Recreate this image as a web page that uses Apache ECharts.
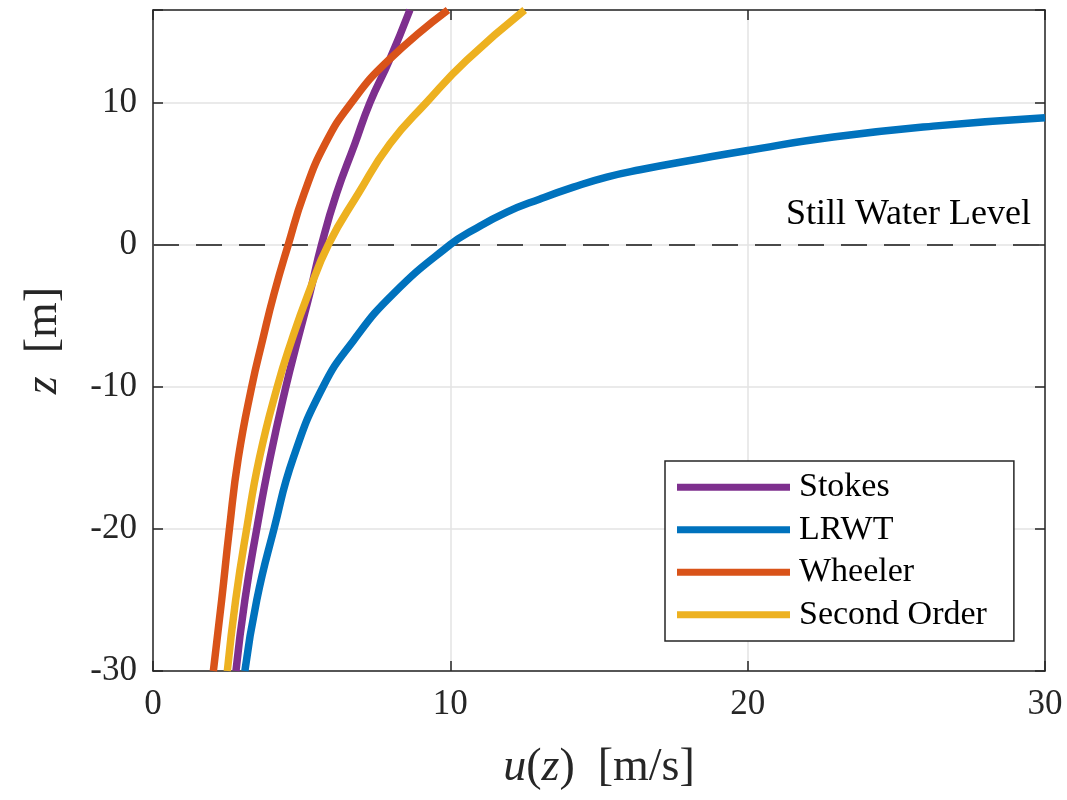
<!DOCTYPE html>
<html>
<head>
<meta charset="utf-8">
<script src="https://cdn.jsdelivr.net/npm/echarts@6/dist/echarts.min.js"></script>
<style>
  html, body { margin: 0; padding: 0; background: #fff; }
  #chart { width: 1067px; height: 800px; }
</style>
</head>
<body>
<div id="chart"></div>
<script>
// velocity profiles u(z)
var stokesZ = [-30, -25, -20, -15, -10, -6.76, -3.47, 0, 3.57, 7.09, 10, 12.96, 16.5];
var stokesU = [2.79, 3.09, 3.49, 3.94, 4.47, 4.86, 5.27, 5.67, 6.17, 6.79, 7.3, 7.95, 8.64];

var lrwtZ = [-30, -25, -20, -15, -10, -6.76, -3.47, 0, 1, 2.28, 3.21, 4.04, 4.75, 5.26, 6.0, 6.62, 7.56, 8.33, 8.92];
var lrwtU = [3.09, 3.49, 4.07, 4.72, 5.72, 6.74, 8.08, 10, 10.75, 11.9, 13.02, 14.14, 15.26, 16.38, 18.3, 20, 22.88, 26.24, 30];

var wheelerZ = [-30, -25, -20, -15, -10, -6.76, -3.47, 0, 3.57, 7.09, 10, 12.96, 16.5];
var wheelerU = [2.03, 2.31, 2.57, 2.87, 3.32, 3.68, 4.07, 4.55, 5.08, 5.79, 6.68, 7.92, 9.92];

var secondZ = [-30, -25, -20, -15, -10, -6.76, -3.47, 0, 3.57, 7.09, 10, 12.96, 16.5];
var secondU = [2.5, 2.78, 3.15, 3.58, 4.18, 4.66, 5.22, 5.9, 6.9, 7.97, 9.2, 10.55, 12.5];

var names = ['Stokes', 'LRWT', 'Wheeler', 'Second Order'];
var colors = ['#7E2F8E', '#0072BD', '#D95319', '#EDB120'];
var stillWaterLevel = 0;

function zip(u, z) {
  var out = [];
  for (var i = 0; i < u.length; i++) out.push([u[i], z[i]]);
  return out;
}

var font = '"Liberation Serif", "DejaVu Serif", serif';
var axisColor = '#262626';
var gridColor = '#e3e3e3';

var chart = echarts.init(document.getElementById('chart'));

var lineSeries = function (name, data, color) {
  return {
    name: name,
    type: 'line',
    data: data,
    showSymbol: false,
    smooth: 0.5,
    color: color,
    lineStyle: { width: 7.5, color: color },
    xAxisIndex: 0,
    yAxisIndex: 0
  };
};

var series = [
  lineSeries(names[0], zip(stokesU, stokesZ), colors[0]),
  lineSeries(names[1], zip(lrwtU, lrwtZ), colors[1]),
  lineSeries(names[2], zip(wheelerU, wheelerZ), colors[2]),
  lineSeries(names[3], zip(secondU, secondZ), colors[3])
];
// dashed still water level line + text
series[0].markLine = {
  silent: true,
  symbol: ['none', 'none'],
  z: 1,
  lineStyle: { type: [26, 17], color: '#4a4a4a', width: 2 },
  label: {
    show: true,
    position: 'insideEndTop',
    formatter: 'Still Water Level',
    fontFamily: font,
    fontSize: 36,
    color: '#000',
    distance: [14, 12]
  },
  data: [{ yAxis: stillWaterLevel }]
};

var tickLabels = function (v) { return (v % 10 === 0) ? String(v) : ''; };

var option = {
  animation: false,
  backgroundColor: '#fff',
  grid: { left: 153, right: 22, top: 10, bottom: 129, containLabel: false, outerBoundsMode: 'none' },
  legend: {
    orient: 'vertical',
    left: 665,
    top: 461,
    icon: 'rect',
    itemWidth: 113,
    itemHeight: 7,
    itemGap: 8,
    padding: [9, 27, 9, 12],
    borderColor: axisColor,
    borderWidth: 1.5,
    backgroundColor: '#fff',
    data: names,
    textStyle: { fontFamily: font, fontSize: 34, color: '#000', lineHeight: 34.5, padding: [0, 0, 0, 4] }
  },
  xAxis: [{
    type: 'value',
    min: 0, max: 30, interval: 10,
    name: '{i|u}({i|z})  [m/s]',
    nameLocation: 'middle',
    nameGap: 74,
    nameTextStyle: {
      fontFamily: font, fontSize: 46, color: '#262626',
      rich: { i: { fontFamily: font, fontSize: 46, fontStyle: 'italic', color: '#262626' } }
    },
    axisLine: { show: true, onZero: false, lineStyle: { color: axisColor, width: 1.5 } },
    axisTick: { show: true, inside: true, length: 10, lineStyle: { color: axisColor, width: 1.5 } },
    axisLabel: { fontFamily: font, fontSize: 35, color: '#262626', margin: 16, formatter: tickLabels },
    splitLine: { show: true, lineStyle: { color: gridColor, width: 1.5 } }
  }, {
    type: 'value', position: 'top',
    min: 0, max: 30, interval: 10,
    axisLine: { show: true, onZero: false, lineStyle: { color: axisColor, width: 1.5 } },
    axisTick: { show: true, inside: true, length: 10, lineStyle: { color: axisColor, width: 1.5 } },
    axisLabel: { show: false },
    splitLine: { show: false }
  }],
  yAxis: [{
    type: 'value',
    min: -30, max: 16.5, interval: 10,
    name: '{i|z}  [m]',
    nameLocation: 'middle',
    nameGap: 86,
    nameRotate: 90,
    nameTextStyle: {
      fontFamily: font, fontSize: 46, color: '#262626',
      rich: { i: { fontFamily: font, fontSize: 46, fontStyle: 'italic', color: '#262626' } }
    },
    axisLine: { show: true, onZero: false, lineStyle: { color: axisColor, width: 1.5 } },
    axisTick: { show: true, inside: true, length: 10, lineStyle: { color: axisColor, width: 1.5 } },
    axisLabel: { fontFamily: font, fontSize: 35, color: '#262626', margin: 16, formatter: tickLabels },
    splitLine: { show: true, lineStyle: { color: gridColor, width: 1.5 } }
  }, {
    type: 'value', position: 'right',
    min: -30, max: 16.5, interval: 10,
    axisLine: { show: true, onZero: false, lineStyle: { color: axisColor, width: 1.5 } },
    axisTick: { show: true, inside: true, length: 10, lineStyle: { color: axisColor, width: 1.5 } },
    axisLabel: { show: false },
    splitLine: { show: false }
  }],
  series: series
};

chart.setOption(option);
</script>
</body>
</html>
